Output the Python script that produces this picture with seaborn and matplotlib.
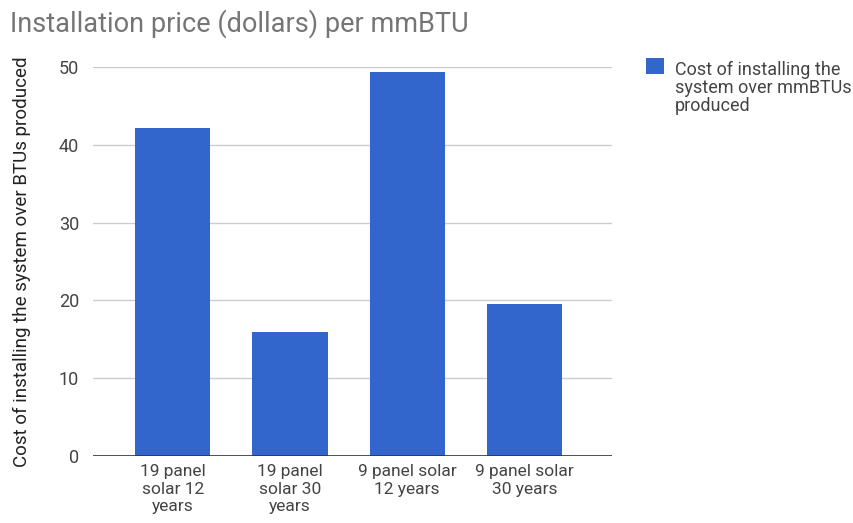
import numpy as np
import pandas as pd
import seaborn as sns
import matplotlib.pyplot as plt
from matplotlib.patches import Patch, Rectangle
from matplotlib.legend_handler import HandlerPatch

# data
categories = ['19 panel\nsolar 12\nyears', '19 panel\nsolar 30\nyears',
              '9 panel solar\n12 years', '9 panel solar\n30 years']
values = [42.2, 16.0, 49.3, 19.5]
series_name = 'Cost of installing the\nsystem over mmBTUs\nproduced'
y_ticks = [0, 10, 20, 30, 40, 50]

df = pd.DataFrame({'category': categories, 'cost': values, 'series': series_name})

sns.set_theme(style='white')
plt.rcParams['font.family'] = ['Roboto', 'DejaVu Sans']

fig = plt.figure(figsize=(8.54, 5.23), dpi=100)
ax = fig.add_axes([0.109, 0.128, 0.608, 0.744])

sns.barplot(data=df, x='category', y='cost', hue='series',
            palette=['#3366cc'], saturation=1, width=0.64, linewidth=0,
            ax=ax, legend=False, zorder=3)

ax.set_ylim(0, 50)
ax.set_xlim(-0.68, 3.75)
ax.set_yticks(y_ticks)
ax.yaxis.grid(True, color='#cccccc', linewidth=1, zorder=0)
ax.set_axisbelow(True)
for s in ax.spines.values():
    s.set_visible(False)
ax.axhline(0, color='#333333', linewidth=1.2, zorder=4)

ax.tick_params(axis='y', labelsize=13, labelcolor='#444444', length=0, pad=10)
ax.tick_params(axis='x', labelsize=12.5, labelcolor='#444444', length=0, pad=6)
ax.set_xlabel('')
ax.set_ylabel('Cost of installing the system over BTUs produced',
              fontsize=13.5, color='#222222', labelpad=20)

fig.text(0.012, 0.955, 'Installation price (dollars) per mmBTU',
         fontsize=19.5, color='#757575', ha='left', va='center')


# legend square sits next to the first text line, like google charts
def top_square(legend, orig_handle, xdescent, ydescent, width, height, fontsize):
    return Rectangle((-xdescent, -ydescent + 16.5), width, height)


handle = Patch(facecolor='#3366cc', edgecolor='none')
leg = fig.legend([handle], [series_name], loc='upper left',
                 bbox_to_anchor=(0.737, 0.915), frameon=False,
                 fontsize=13, handlelength=1.0, handleheight=1.0,
                 handletextpad=0.6, labelcolor='#444444',
                 handler_map={Patch: HandlerPatch(patch_func=top_square)})
for t in leg.get_texts():
    t.set_linespacing(1.0)

fig.savefig('out.png', dpi=100)
